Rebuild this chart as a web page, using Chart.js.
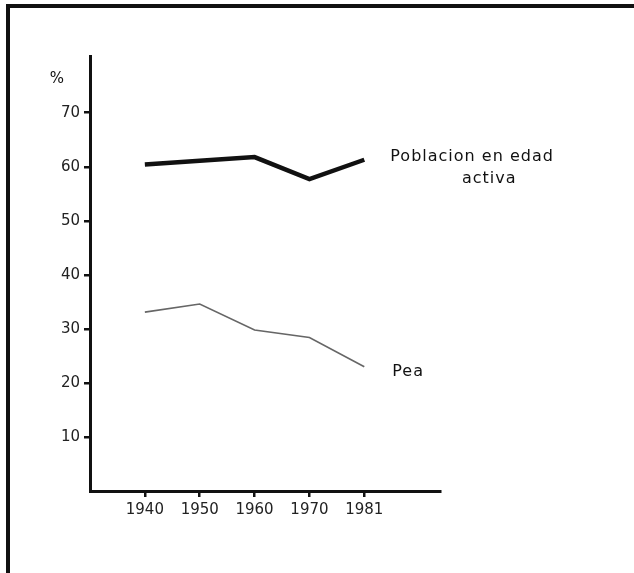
<!DOCTYPE html>
<html>
<head>
<meta charset="utf-8">
<script src="https://cdn.jsdelivr.net/npm/chart.js@4/dist/chart.umd.min.js"></script>
<style>
  html, body { margin: 0; padding: 0; background: #fff; }
  #wrap { width: 634px; height: 573px; position: relative; }
</style>
</head>
<body>
<div id="wrap"><canvas id="chart"></canvas></div>
<script>
// Data
const years = ['1940', '1950', '1960', '1970', '1981'];
const edadActiva = [60.4, 61.1, 61.8, 57.7, 61.3];
const pea = [33.1, 34.6, 29.8, 28.4, 23.0];
const yTickValues = [10, 20, 30, 40, 50, 60, 70];

const FONT = "'DejaVu Sans', sans-serif";

const toPoints = arr => arr.map((v, i) => ({ x: i + 1, y: v }));

// frame, "%" unit and the line labels
const annotations = {
    id: 'annotations',
    beforeDraw(chart) {
        const ctx = chart.ctx;
        ctx.save();
        ctx.fillStyle = '#fff';
        ctx.fillRect(0, 0, chart.width, chart.height);
        ctx.strokeStyle = '#111';
        ctx.lineWidth = 4;
        ctx.beginPath();
        ctx.moveTo(chart.width, 6);
        ctx.lineTo(8, 6);
        ctx.lineTo(8, chart.height);
        ctx.stroke();
        ctx.restore();
    },
    afterDraw(chart) {
        const ctx = chart.ctx;
        const { x, y } = chart.scales;
        ctx.save();
        ctx.fillStyle = '#111';
        ctx.font = '15px ' + FONT;
        ctx.textBaseline = 'middle';
        ctx.textAlign = 'center';
        ctx.fillText('%', 57, 79);

        const lastA = edadActiva[edadActiva.length - 1];
        const lastP = pea[pea.length - 1];
        const lx = x.getPixelForValue(years.length) + 26;
        ctx.font = '16px ' + FONT;
        ctx.letterSpacing = '1px';
        ctx.textAlign = 'left';
        ctx.fillText('Poblacion en edad', lx, y.getPixelForValue(lastA) - 3);
        ctx.textAlign = 'center';
        ctx.fillText('activa', lx + 99, y.getPixelForValue(lastA) + 19);
        ctx.textAlign = 'left';
        ctx.fillText('Pea', lx + 2, y.getPixelForValue(lastP) + 5);
        ctx.restore();
    }
};

new Chart(document.getElementById('chart'), {
    type: 'line',
    data: {
        datasets: [
            {
                label: 'Poblacion en edad activa',
                data: toPoints(edadActiva),
                borderColor: '#111',
                borderWidth: 4.5,
                pointRadius: 0,
                tension: 0
            },
            {
                label: 'Pea',
                data: toPoints(pea),
                borderColor: '#666',
                borderWidth: 1.6,
                pointRadius: 0,
                tension: 0
            }
        ]
    },
    options: {
        responsive: true,
        maintainAspectRatio: false,
        animation: false,
        layout: { padding: { top: 56, right: 194, left: 0, bottom: 0 } },
        plugins: {
            legend: { display: false },
            tooltip: { enabled: false }
        },
        scales: {
            x: {
                type: 'linear',
                min: 0,
                max: 6.38,
                afterBuildTicks: s => { s.ticks = years.map((_, i) => ({ value: i + 1 })); },
                afterFit: s => { s.height = 573 - 491; },
                border: { color: '#111', width: 3 },
                grid: { drawOnChartArea: false, drawTicks: true, tickLength: 6, color: '#111', lineWidth: 2.5 },
                ticks: {
                    color: '#222',
                    padding: 4,
                    maxRotation: 0,
                    font: { family: FONT, size: 15 },
                    callback: v => years[v - 1]
                }
            },
            y: {
                min: 0,
                max: 80.5,
                afterBuildTicks: s => { s.ticks = yTickValues.map(v => ({ value: v })); },
                afterFit: s => { s.width = 90; },
                border: { color: '#111', width: 3 },
                grid: { drawOnChartArea: false, drawTicks: true, tickLength: 6, color: '#111', lineWidth: 2.5 },
                ticks: {
                    color: '#222',
                    padding: 4,
                    font: { family: FONT, size: 15 }
                }
            }
        }
    },
    plugins: [annotations]
});
</script>
</body>
</html>
